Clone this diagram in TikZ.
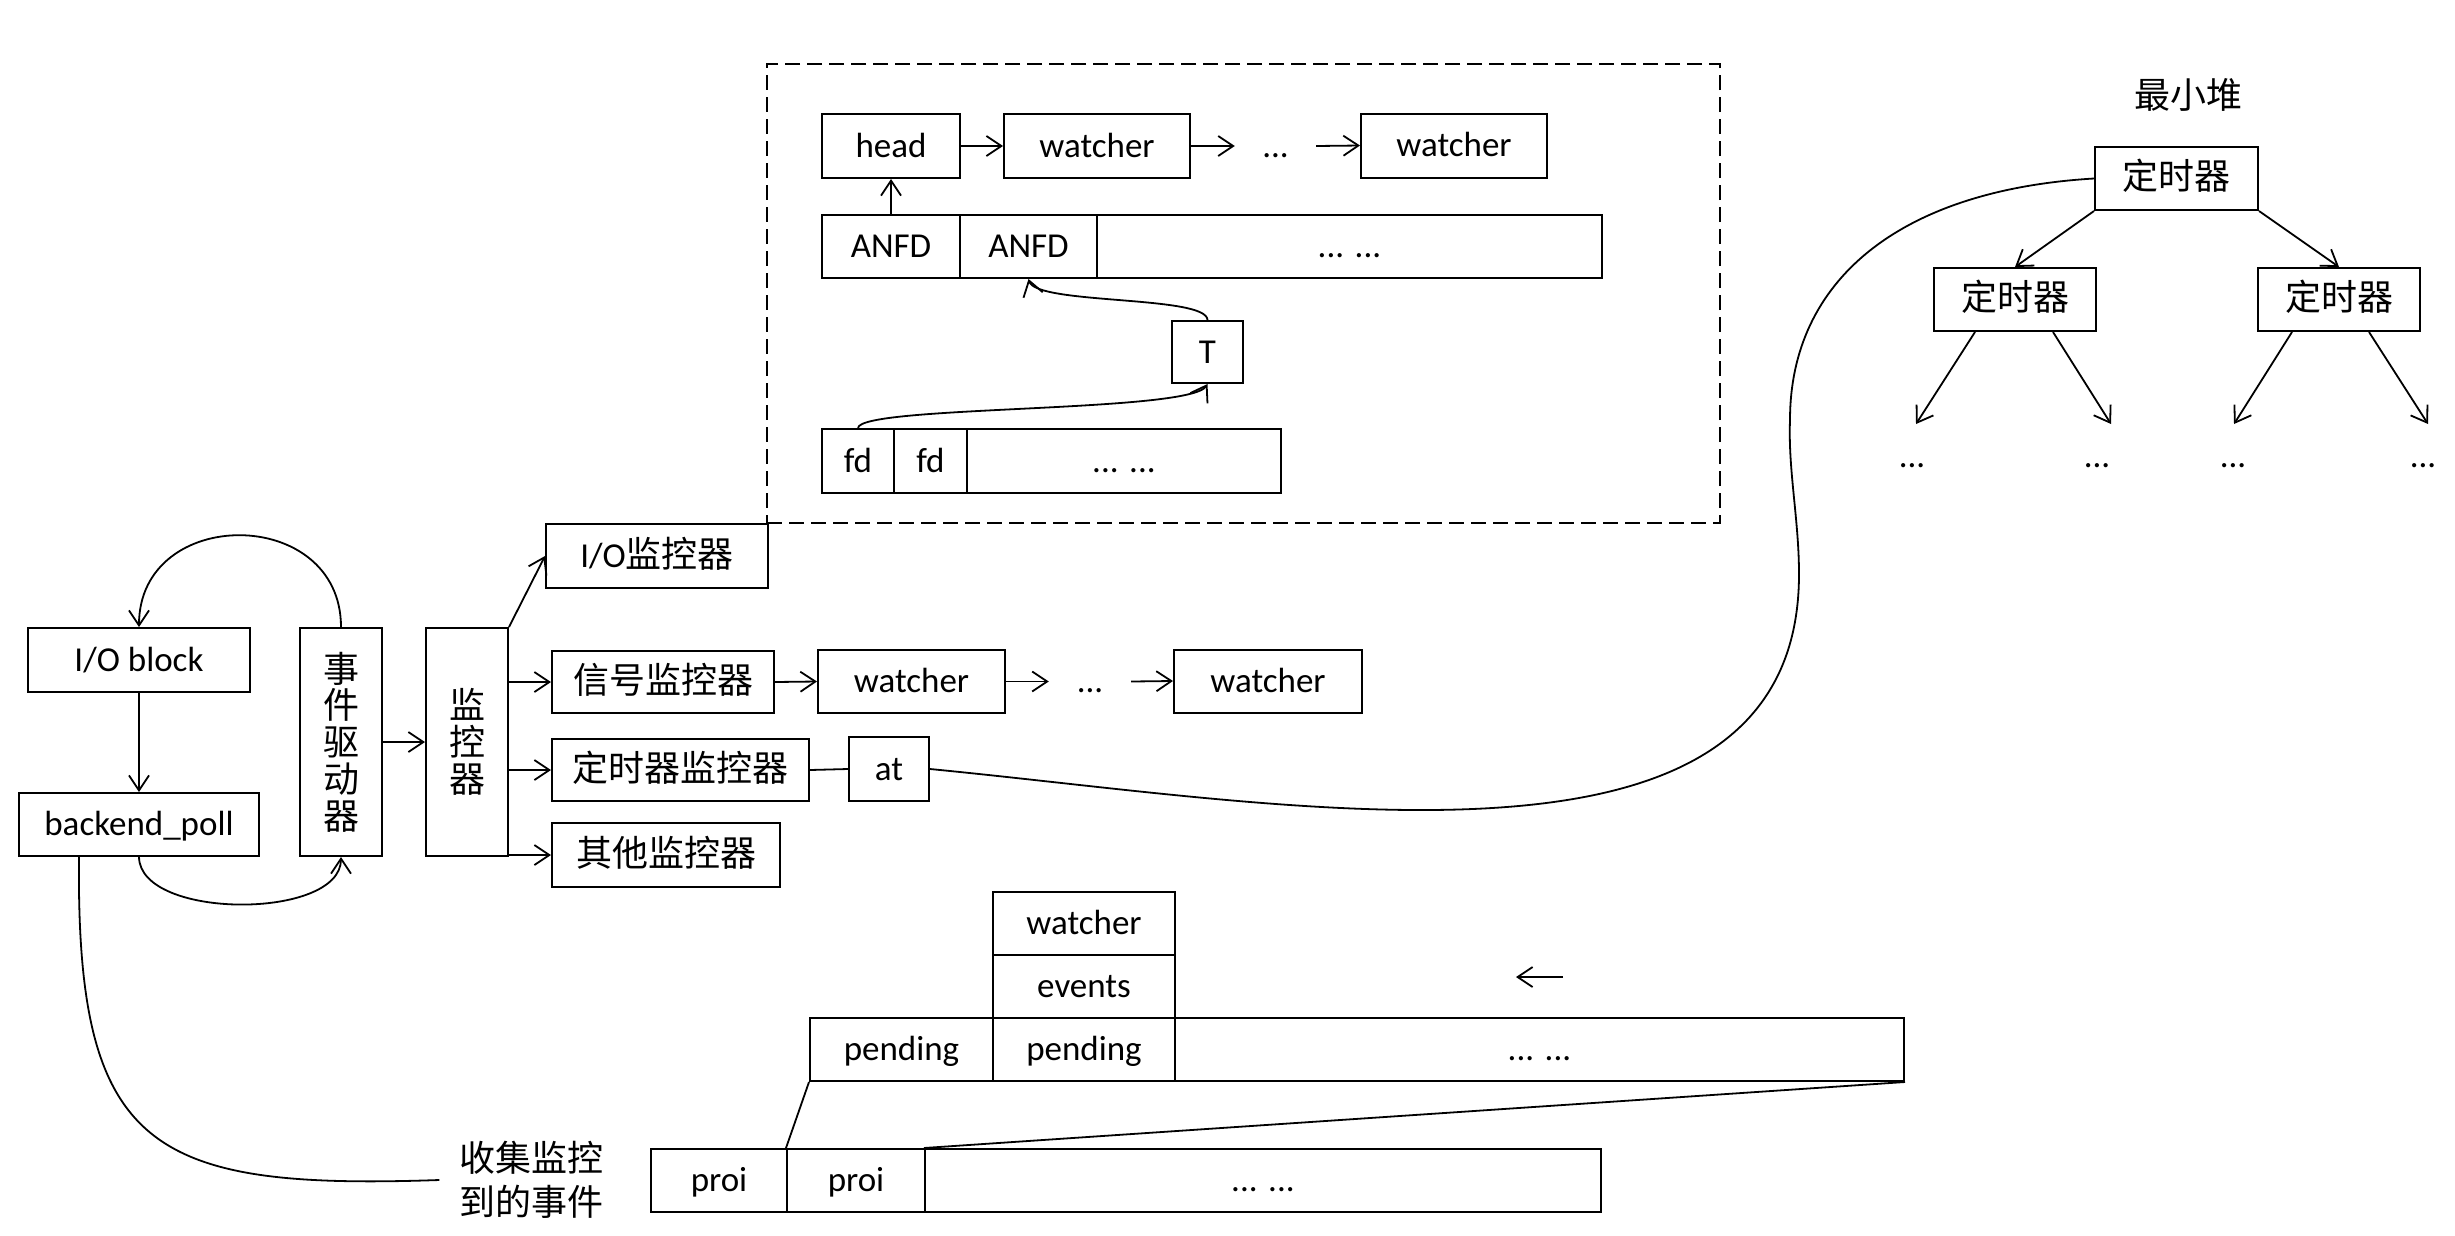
\documentclass[tikz,border=0pt]{standalone}
\usepackage{fontspec}
\setmainfont{Carlito}
\newfontfamily\cjkf{Noto Sans CJK SC}
\usetikzlibrary{arrows.meta}
\newcommand\latsize{\fontsize{35pt}{42pt}\selectfont}
\newcommand\zhtxt[1]{{\cjkf\fontsize{36pt}{42pt}\selectfont #1}}
\begin{document}
\begin{tikzpicture}[x=1pt,y=-1pt,
  bx/.style={draw, line width=2pt, inner sep=0pt, text height=27pt, text depth=5pt, font=\latsize},
  sz/.style 2 args={minimum width=#1pt, minimum height=#2pt},
  vstack/.style={draw, line width=2pt, inner sep=0pt, align=center, font=\cjkf\fontsize{36pt}{36.75pt}\selectfont},
  txtn/.style={inner sep=0pt, text height=27pt, text depth=5pt, font=\latsize},
  conn/.style={line width=1.8pt},
  arr/.style={conn, -{Straight Barb[length=15pt,width=20pt]}},
  grp/.style={draw, line width=2pt, dash pattern=on 15pt off 7pt, inner sep=0pt}
]
\useasboundingbox (0,0) rectangle (2455,1235);

% left part
\node[bx, sz={222}{64}] (iob) at (139,660) {I/O block};
\node[bx, sz={240}{63}] (bp) at (139,824.5) {backend\_poll};
\node[vstack, sz={82}{228}] (drv) at (341,742) {事\\件\\驱\\动\\器};
\node[vstack, sz={82}{228}] (mon) at (467,742) {监\\控\\器};
\node[bx, sz={222}{64}] (iom) at (657,556) {I/O\zhtxt{监控器}};
\node[bx, sz={222}{62}] (sig) at (663,682) {\zhtxt{信号监控器}};
\node[bx, sz={257}{62}] (tim) at (680.5,770) {\zhtxt{定时器监控器}};
\node[bx, sz={228}{64}] (oth) at (666,855) {\zhtxt{其他监控器}};
\node[bx, sz={187}{63}] (sw1) at (911.5,681.5) {watcher};
\node[txtn, sz={82}{20}] (sdots) at (1090,681.5) {...};
\node[bx, sz={188}{63}] (sw2) at (1268,681) {watcher};
\node[bx, sz={80}{64}] (atn) at (889,769) {at};

% I/O group
\node[grp, sz={953}{459}] (grpbox) at (1243.5,293.5) {};
\node[bx, sz={138}{64}] (head) at (891,146) {head};
\node[bx, sz={186}{64}] (hw1) at (1097,146) {watcher};
\node[txtn, sz={81}{20}] (hdots) at (1275.5,146) {...};
\node[bx, sz={186}{64}] (hw2) at (1454,145.5) {watcher};
\node[bx, sz={138}{63}] (a1) at (891,246.5) {ANFD};
\node[bx, sz={137}{63}] (a2) at (1028.5,246.5) {ANFD};
\node[bx, sz={505}{63}] (a3) at (1349.5,246.5) {... ...};
\node[bx, sz={71}{62}] (tn) at (1207.5,352) {T};
\node[bx, sz={72}{64}] (f1) at (858,461) {fd};
\node[bx, sz={73}{64}] (f2) at (930.5,461) {fd};
\node[bx, sz={314}{64}] (f3) at (1124,461) {... ...};

% bottom part
\node[bx, sz={182}{63}] (bw) at (1084,923.5) {watcher};
\node[bx, sz={182}{63}] (be) at (1084,986.5) {events};
\node[bx, sz={183}{63}] (p1) at (901.5,1049.5) {pending};
\node[bx, sz={182}{63}] (p2) at (1084,1049.5) {pending};
\node[bx, sz={729}{63}] (p3) at (1539.5,1049.5) {... ...};
\node[bx, sz={136}{63}] (r1) at (719,1180.5) {proi};
\node[bx, sz={138}{63}] (r2) at (856,1180.5) {proi};
\node[bx, sz={676}{63}] (r3) at (1263,1180.5) {... ...};
\node[inner sep=20pt, align=left, font=\cjkf\fontsize{36pt}{44pt}\selectfont] (lbl) at (531.5,1180) {收集监控\\到的事件};
\coordinate (la) at (1563,977);
\coordinate (lb) at (1516,977);

% tree
\node[inner sep=0pt, font=\cjkf\fontsize{36pt}{42pt}\selectfont] (heap) at (2188,95) {最小堆};
\node[bx, sz={163}{63}] (root) at (2176.5,178.5) {\zhtxt{定时器}};
\node[bx, sz={162}{63}] (lc) at (2015,299.5) {\zhtxt{定时器}};
\node[bx, sz={162}{63}] (rc) at (2339,299.5) {\zhtxt{定时器}};
\node[txtn] (t1) at (1912,456) {...};
\node[txtn] (t2) at (2097,456) {...};
\node[txtn] (t3) at (2233,456) {...};
\node[txtn] (t4) at (2423,456) {...};
\coordinate (e1) at (1916,424);
\coordinate (e2) at (2111,424);
\coordinate (e3) at (2234,424);
\coordinate (e4) at (2428,424);
\coordinate (q1) at (1799,574);
\coordinate (q2) at (1790,420);

% connectors left
\draw[arr] (iob.south) -- (bp.north);
\draw[arr] (drv.north) .. controls (341,505) and (139,505) .. (iob.north);
\draw[arr] (bp.south) .. controls (140,920) and (341,920) .. (drv.south);
\draw[arr] (drv.east) -- (mon.west);
\draw[arr] (mon.north east) -- (iom.west);
\draw[arr] (sig.west -| mon.east) -- (sig.west);
\draw[arr] (tim.west -| mon.east) -- (tim.west);
\draw[arr] (oth.west -| mon.east) -- (oth.west);
\draw[arr] (sig.east) -- (sw1.west);
\draw[arr] (sw1.east) -- (sdots.west);
\draw[arr] (sdots.east) -- (sw2.west);
\draw[conn] (tim.east) -- (atn.west);
\draw[conn] (atn.east) .. controls (1300,805) and (1799,900) .. (q1)
  .. controls (1799,520) and (1788,470) .. (q2)
  .. controls (1790,280) and (1900,190) .. (root.west);
\draw[conn] ([xshift=-60pt]bp.south) .. controls (76,1150) and (150,1190) .. (lbl.west);

% connectors in group
\draw[arr] (head.east) -- (hw1.west);
\draw[arr] (hw1.east) -- (hdots.west);
\draw[arr] (hdots.east) -- (hw2.west);
\draw[arr] (a1.north) -- (head.south);
\draw[arr] (tn.north) .. controls (1207,295) and (1036,305) .. (a2.south);
\draw[arr] (f1.north) .. controls (860,405) and (1190,413) .. (tn.south);

% connectors bottom
\draw[arr] (la) -- (lb);
\draw[conn] (p1.south west) -- (r2.north west);
\draw[conn] (p3.south east) -- (r3.north west);

% tree connectors
\draw[arr] (root.south west) -- (lc.north);
\draw[arr] (root.south east) -- (rc.north);
\draw[arr] ([xshift=-40pt]lc.south) -- (e1);
\draw[arr] ([xshift=38pt]lc.south) -- (e2);
\draw[arr] ([xshift=-47pt]rc.south) -- (e3);
\draw[arr] ([xshift=30pt]rc.south) -- (e4);
\end{tikzpicture}
\end{document}
